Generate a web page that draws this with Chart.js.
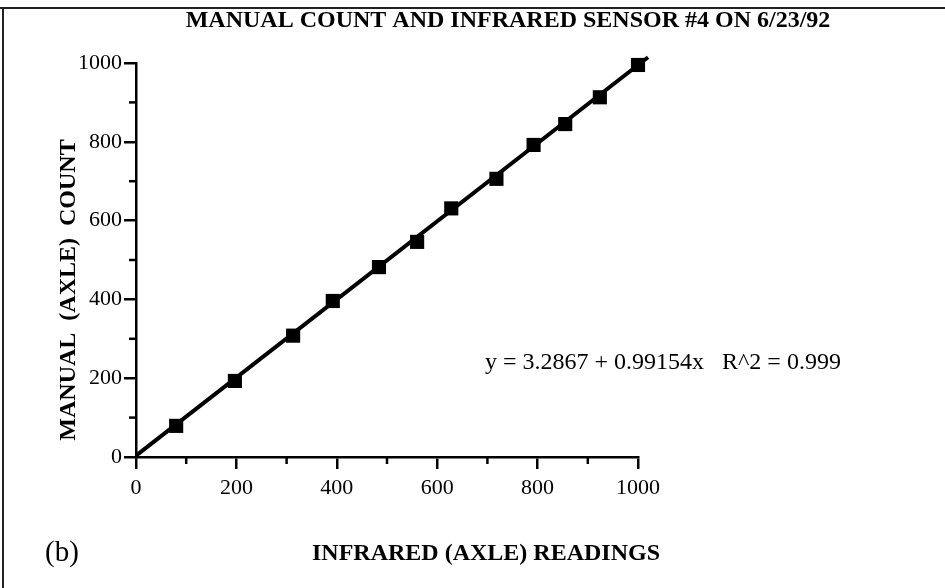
<!DOCTYPE html>
<html><head><meta charset="utf-8">
<script src="https://cdn.jsdelivr.net/npm/chart.js@4/dist/chart.umd.min.js"></script>
<style>html,body{margin:0;padding:0;background:#fff}#wrap{width:945px;height:588px;position:relative}</style>
</head><body><div id="wrap"><canvas id="c" width="945" height="588"></canvas></div>
<script>
const infraredReadings = [80, 197, 313, 392, 484, 560, 628, 718, 792, 855, 924, 1000];
const manualCounts     = [79, 193, 308, 396, 482, 546, 631, 706, 792, 845, 913, 995];
const fitX = [0, 1020];
const fitY = [3.3, 1014.7];
const xTickLabels = ['0', '200', '400', '600', '800', '1000'];
const yTickLabels = ['0', '200', '400', '600', '800', '1000'];
const chartTitle = 'MANUAL COUNT AND INFRARED SENSOR #4 ON 6/23/92';
const xTitle = 'INFRARED (AXLE) READINGS';
const yTitle = 'MANUAL  (AXLE)  COUNT';
const fitLabel = 'y = 3.2867 + 0.99154x   R^2 = 0.999';
const panelLabel = '(b)';

const SERIF = '"Liberation Serif", "Times New Roman", serif';

const decor = {
  id: 'decor',
  beforeDraw(chart) {
    const ctx = chart.ctx;
    ctx.save();
    ctx.fillStyle = '#fff';
    ctx.fillRect(0, 0, chart.width, chart.height);
    ctx.strokeStyle = '#222';
    ctx.lineWidth = 2;
    ctx.beginPath();
    ctx.moveTo(0, 8); ctx.lineTo(chart.width, 8);
    ctx.moveTo(3, 8); ctx.lineTo(3, chart.height);
    ctx.stroke();
    ctx.restore();
  },
  afterDraw(chart) {
    const ctx = chart.ctx;
    ctx.save();
    ctx.strokeStyle = '#000';
    ctx.lineWidth = 2.5;
    const xs = chart.scales.x, ys = chart.scales.y;
    xs.ticks.forEach(t => {
      if (t.value % 200 === 100) {
        const px = xs.getPixelForValue(t.value);
        ctx.beginPath(); ctx.moveTo(px, xs.top); ctx.lineTo(px, xs.top + 7); ctx.stroke();
      }
    });
    ys.ticks.forEach(t => {
      if (t.value % 200 === 100) {
        const py = ys.getPixelForValue(t.value);
        ctx.beginPath(); ctx.moveTo(ys.right, py); ctx.lineTo(ys.right - 7, py); ctx.stroke();
      }
    });
    ctx.fillStyle = '#000';
    ctx.textBaseline = 'middle';
    ctx.textAlign = 'center';
    ctx.font = 'bold 24px ' + SERIF;
    ctx.fillText(chartTitle, 508, 21);
    ctx.fillText(xTitle, 486, 554);
    ctx.save();
    ctx.translate(69, 290);
    ctx.rotate(-Math.PI / 2);
    ctx.fillText(yTitle, 0, 0);
    ctx.restore();
    ctx.font = '24px ' + SERIF;
    ctx.textAlign = 'left';
    ctx.fillText(fitLabel, 485, 363);
    ctx.font = '29px ' + SERIF;
    ctx.fillText(panelLabel, 45, 553);
    ctx.restore();
  }
};

new Chart(document.getElementById('c'), {
  type: 'scatter',
  data: {
    datasets: [
      {
        label: 'Observations',
        data: infraredReadings.map((x, i) => ({ x: x, y: manualCounts[i] })),
        pointStyle: 'rect',
        pointRadius: 10,
        pointHoverRadius: 10,
        backgroundColor: '#000',
        borderColor: '#000',
        borderWidth: 0,
        clip: false,
        order: 0
      },
      {
        label: 'Fit',
        data: fitX.map((x, i) => ({ x: x, y: fitY[i] })),
        showLine: true,
        borderColor: '#000',
        borderWidth: 4,
        pointRadius: 0,
        clip: false,
        order: 1
      }
    ]
  },
  options: {
    responsive: false,
    devicePixelRatio: 1,
    animation: false,
    layout: { padding: { left: 0, top: 63, right: 307, bottom: 0 } },
    plugins: { legend: { display: false }, title: { display: false }, tooltip: { enabled: false } },
    scales: {
      x: {
        type: 'linear', position: 'bottom', min: 0, max: 1000,
        afterFit: s => { s.height = 131; },
        ticks: {
          stepSize: 100, autoSkip: false, maxRotation: 0, color: '#000', padding: 6,
          font: { family: SERIF, size: 22 },
          callback: v => xTickLabels.includes(String(v)) ? String(v) : ''
        },
        grid: {
          drawOnChartArea: false, drawTicks: true, tickLength: 12, tickWidth: 2.5, lineWidth: 2.5,
          tickColor: c => (c.tick && c.tick.value % 200 === 0) ? '#000' : 'rgba(0,0,0,0)'
        },
        border: { display: true, color: '#000', width: 2.5 }
      },
      y: {
        type: 'linear', position: 'left', min: 0, max: 1000,
        afterFit: s => { s.width = 136; },
        ticks: {
          stepSize: 100, autoSkip: false, color: '#000', padding: 2,
          font: { family: SERIF, size: 22 },
          callback: v => yTickLabels.includes(String(v)) ? String(v) : ''
        },
        grid: {
          drawOnChartArea: false, drawTicks: true, tickLength: 12, tickWidth: 2.5, lineWidth: 2.5,
          tickColor: c => (c.tick && c.tick.value % 200 === 0) ? '#000' : 'rgba(0,0,0,0)'
        },
        border: { display: true, color: '#000', width: 2.5 }
      }
    }
  },
  plugins: [decor]
});
</script></body></html>
